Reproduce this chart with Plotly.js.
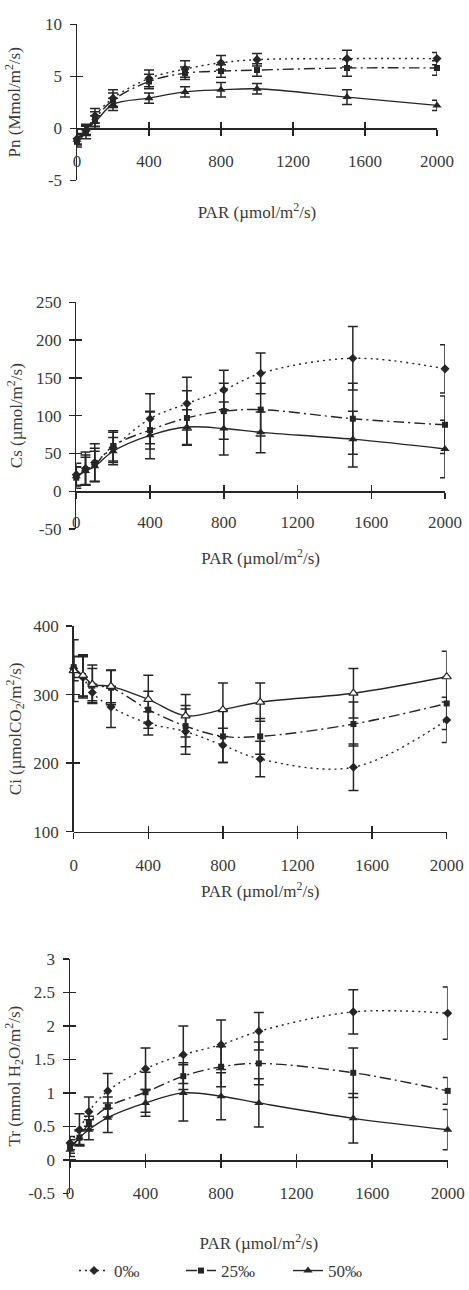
<!DOCTYPE html>
<html><head><meta charset="utf-8">
<script src="https://cdn.plot.ly/plotly-3.0.1.min.js"></script>
<style>html,body{margin:0;padding:0;background:#fff}#chart{width:469px;height:1290px}</style>
</head><body><div id="chart"></div>
<script>
// ---------------- data ----------------
const PAR = [0, 50, 100, 200, 400, 600, 800, 1000, 1500, 2000];
const seriesNames = ['0‰', '25‰', '50‰'];

const pn0  = [-1.0, -0.2, 1.2, 2.9, 4.8, 5.7, 6.3, 6.6, 6.7, 6.7];
const pn0e = [0.5, 0.5, 0.7, 0.8, 0.8, 0.8, 0.7, 0.6, 0.8, 0.6];
const pn25  = [-1.3, -0.4, 0.9, 2.7, 4.5, 5.3, 5.5, 5.6, 5.8, 5.8];
const pn25e = [0.5, 0.6, 0.7, 0.7, 0.7, 0.6, 0.6, 0.6, 0.8, 0.7];
const pn50  = [-1.1, -0.1, 0.6, 2.3, 2.9, 3.5, 3.7, 3.8, 3.0, 2.2];
const pn50e = [0.5, 0.5, 0.6, 0.6, 0.5, 0.5, 0.7, 0.5, 0.7, 0.5];

const cs0  = [22, 30, 38, 58, 96, 116, 134, 156, 176, 162];
const cs0e = [15, 22, 25, 20, 33, 35, 26, 27, 42, 32];
const cs25  = [18, 28, 35, 60, 81, 97, 106, 108, 96, 88];
const cs25e = [14, 20, 22, 20, 25, 36, 37, 35, 47, 38];
const cs50  = [20, 27, 33, 53, 74, 85, 83, 78, 69, 56];
const cs50e = [12, 18, 20, 18, 31, 23, 35, 27, 37, 38];

const ci0  = [338, 325, 303, 282, 258, 246, 226, 206, 194, 263];
const ci0e = [18, 30, 12, 30, 17, 33, 25, 26, 34, 33];
const ci25  = [340, 327, 313, 310, 278, 254, 239, 239, 257, 287];
const ci25e = [15, 30, 25, 25, 27, 30, 38, 26, 32, 38];
const ci50  = [335, 328, 315, 312, 293, 269, 278, 289, 302, 326];
const ci50e = [45, 30, 28, 24, 35, 31, 39, 28, 36, 37];

const tr0  = [0.25, 0.45, 0.72, 1.03, 1.36, 1.57, 1.72, 1.92, 2.21, 2.19];
const tr0e = [0.10, 0.24, 0.22, 0.26, 0.31, 0.43, 0.37, 0.28, 0.33, 0.39];
const tr25  = [0.20, 0.33, 0.55, 0.79, 1.01, 1.25, 1.39, 1.44, 1.30, 1.03];
const tr25e = [0.10, 0.12, 0.10, 0.15, 0.30, 0.20, 0.30, 0.32, 0.37, 0.20];
const tr50  = [0.15, 0.33, 0.45, 0.63, 0.85, 1.00, 0.95, 0.85, 0.62, 0.45];
const tr50e = [0.10, 0.10, 0.15, 0.22, 0.20, 0.42, 0.35, 0.36, 0.37, 0.30];

const xTickVals = [0, 400, 800, 1200, 1600, 2000];
const xTickText = ['0', '400', '800', '1200', '1600', '2000'];
const pnTickVals = [-5, 0, 5, 10];
const pnTickText = ['-5', '0', '5', '10'];
const csTickVals = [-50, 0, 50, 100, 150, 200, 250];
const csTickText = ['-50', '0', '50', '100', '150', '200', '250'];
const ciTickVals = [100, 200, 300, 400];
const ciTickText = ['100', '200', '300', '400'];
const trTickVals = [-0.5, 0, 0.5, 1, 1.5, 2, 2.5, 3];
const trTickText = ['-0.5', '0', '0.5', '1', '1.5', '2', '2.5', '3'];

const xTitle = 'PAR (µmol/m<sup>2</sup>/s)';
const yTitles = ['Pn (Mmol/m<sup>2</sup>/s)', 'Cs (µmol/m<sup>2</sup>/s)',
                 'Ci (µmolCO<sub>2</sub>/m<sup>2</sup>/s)', 'Tr (mmol H<sub>2</sub>O/m<sup>2</sup>/s)'];

// ---------------- layout / style ----------------
const W = 469, H = 1290;
const FONT = '"Liberation Serif", "Times New Roman", serif';
const INK = '#262626';
const TXT = '#3a3a3a';

const panels = [
  {vals: [pn0, pn25, pn50], errs: [pn0e, pn25e, pn50e], yRange: [-5, 10], tv: pnTickVals, tt: pnTickText,
   l: 77, r: 437, top: 24.3, bot: 180.3, axis: 128.3, xStand: 36, yStand: 19.5, lStand: 11, open: false},
  {vals: [cs0, cs25, cs50], errs: [cs0e, cs25e, cs50e], yRange: [-50, 250], tv: csTickVals, tt: csTickText,
   l: 76.3, r: 445, top: 302.3, bot: 529.1, axis: 491.3, xStand: 21, yStand: 8.6, lStand: 9, open: false},
  {vals: [ci0, ci25, ci50], errs: [ci0e, ci25e, ci50e], yRange: [100, 400], tv: ciTickVals, tt: ciTickText,
   l: 73.7, r: 446.7, top: 626, bot: 831.7, axis: 831.7, xStand: 11, yStand: 7.3, lStand: 11, open: true},
  {vals: [tr0, tr25, tr50], errs: [tr0e, tr25e, tr50e], yRange: [-0.5, 3], tv: trTickVals, tt: trTickText,
   l: 70, r: 447.7, top: 959, bot: 1193.3, axis: 1160, xStand: 35, yStand: 3.2, lStand: 11, open: false},
];

const styles = [
  {dash: '2px,4px', symbol: 'diamond', size: 7},
  {dash: '11px,4px,2px,4px', symbol: 'square', size: 6},
  {dash: 'solid', symbol: 'triangle-up', size: 8},
];

const fnt = (s) => ({family: FONT, size: s, color: TXT});
const axName = (k) => (k === 1 ? '' : String(k));

const traces = [];
const layout = {
  width: W, height: H,
  margin: {l: 0, r: 0, t: 0, b: 0, pad: 0},
  paper_bgcolor: '#fff', plot_bgcolor: 'rgba(0,0,0,0)',
  font: fnt(17),
  showlegend: true,
  legend: {orientation: 'h', x: 0.5, xanchor: 'center', y: 1 - 1271 / H, yanchor: 'middle',
           font: fnt(17), itemwidth: 30, entrywidth: 62, entrywidthmode: 'pixels',
           traceorder: 'normal', bgcolor: 'rgba(0,0,0,0)'},
};

panels.forEach((p, i) => {
  const k = i + 1, k2 = i + 5;
  const xd = [p.l / W, p.r / W];
  const yd = [1 - p.bot / H, 1 - p.top / H];
  const pos = 1 - p.axis / H;
  const common = {showgrid: false, zeroline: false, tickcolor: INK, tickwidth: 1.5, ticklen: 6, fixedrange: true};

  layout['xaxis' + axName(k)] = Object.assign({}, common, {
    domain: xd, range: [0, 2000], anchor: 'free', position: pos,
    tickmode: 'array', tickvals: xTickVals, ticktext: xTickText, ticks: 'outside',
    showline: true, linecolor: INK, linewidth: 1.5, tickfont: fnt(17), ticklabelstandoff: p.lStand,
    title: {text: xTitle, font: fnt(17), standoff: p.xStand}, automargin: false,
  });
  layout['yaxis' + axName(k)] = Object.assign({}, common, {
    domain: yd, range: p.yRange, anchor: 'x' + axName(k), side: 'left',
    tickmode: 'array', tickvals: p.tv, ticktext: p.tt, ticks: 'outside',
    showline: true, linecolor: INK, linewidth: 1.5, tickfont: fnt(17), ticklabelstandoff: 4,
    title: {text: yTitles[i], font: fnt(17), standoff: p.yStand}, automargin: false,
  });
  // overlay axes: inner half of the crossing tick marks
  layout['xaxis' + k2] = Object.assign({}, common, {
    overlaying: 'x' + axName(k), domain: xd, range: [0, 2000], anchor: 'free', position: pos,
    tickmode: 'array', tickvals: xTickVals, ticks: 'inside', showticklabels: false, showline: false,
  });
  layout['yaxis' + k2] = Object.assign({}, common, {
    overlaying: 'y' + axName(k), domain: yd, range: p.yRange, anchor: 'x' + k2, side: 'left',
    tickmode: 'array', tickvals: p.tv, ticks: 'inside', showticklabels: false, showline: false,
  });
  traces.push({x: [], y: [], xaxis: 'x' + k2, yaxis: 'y' + k2, type: 'scatter', mode: 'markers',
               showlegend: false, hoverinfo: 'skip'});

  p.vals.forEach((v, s) => {
    const st = styles[s];
    const isOpen = p.open && s === 2;
    traces.push({
      x: PAR, y: v, xaxis: 'x' + axName(k), yaxis: 'y' + axName(k),
      type: 'scatter', mode: 'lines+markers', name: seriesNames[s], showlegend: i === 3,
      line: {color: INK, width: 1.4, dash: st.dash, shape: 'spline', smoothing: 1},
      marker: {symbol: st.symbol, size: st.size, color: isOpen ? '#fff' : INK,
               line: {color: INK, width: isOpen ? 1.2 : 0}},
      error_y: {type: 'data', array: p.errs[s], visible: true, color: INK, thickness: 1.5, width: 5},
      cliponaxis: false,
    });
  });
});

Plotly.newPlot('chart', traces, layout, {staticPlot: true, displayModeBar: false});
</script>
</body></html>
